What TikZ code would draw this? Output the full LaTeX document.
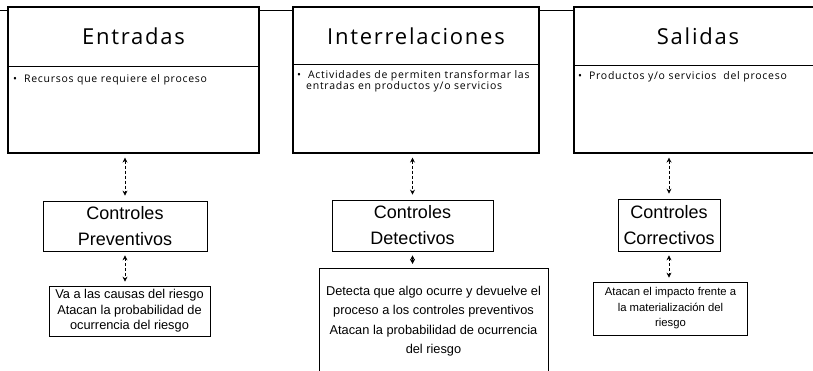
\documentclass[tikz,border=0pt]{standalone}
\usepackage{fontspec}
\setmainfont{Liberation Sans}
\newfontfamily\headfont[LetterSpace=8]{Open Sans}
\newfontfamily\smallfont[LetterSpace=7]{Open Sans}
\usetikzlibrary{arrows.meta,calc}
\begin{document}
\begin{tikzpicture}[x=1pt,y=-1pt,
  bigbox/.style={draw,line width=1.1pt,fill=white,inner sep=0pt},
  ctrlbox/.style={draw,line width=0.7pt,fill=white,align=center,inner sep=0pt,font=\fontsize{18}{26}\selectfont},
  descbox/.style={draw,line width=0.7pt,fill=white,align=center,inner sep=0pt,font=\fontsize{12.8}{15.5}\selectfont},
  head/.style={font=\headfont\fontsize{22}{24}\selectfont,inner sep=0pt},
  bullet/.style={font=\smallfont\fontsize{10.5}{11.5}\selectfont,inner sep=0pt,anchor=north west,align=left},
  link/.style={densely dashed,line width=0.7pt,{Stealth[length=5pt,width=5pt]}-{Stealth[length=5pt,width=5pt]}}
]
\clip (0,0) rectangle (813,371);
\fill[white] (0,0) rectangle (813,371);
% faint line behind top boxes
\coordinate (topL) at (0,10);
\coordinate (topR) at (813,10);
\draw[line width=0.6pt] (topL) -- (topR);
% top boxes
\node[bigbox,minimum width=251pt,minimum height=146pt] (E) at (133.5,80) {};
\node[bigbox,minimum width=246pt,minimum height=146pt] (I) at (416,80) {};
\node[bigbox,minimum width=246pt,minimum height=146pt] (S) at (697,80) {};
\draw[line width=0.9pt] (E.west |- 0,66) -- (E.east |- 0,66);
\draw[line width=0.9pt] (I.west |- 0,64) -- (I.east |- 0,64);
\draw[line width=0.9pt] (S.west |- 0,65) -- (S.east |- 0,65);
\node[head] (Et) at (133.5,36) {Entradas};
\node[head] (It) at (416,36) {Interrelaciones};
\node[head] (St) at (698,36) {Salidas};
\node[bullet] (Eb) at (13,74) {•\ \ Recursos que requiere el proceso};
\node[bullet] (Ib) at (297,70) {•\ \ Actividades de permiten transformar las\\\hspace*{9pt}entradas en productos y/o servicios};
\node[bullet] (Sb) at (578,71) {•\ \ Productos y/o servicios\ \ del proceso};
% control boxes
\node[ctrlbox,minimum width=164pt,minimum height=50pt] (P) at (125,226) {Controles\\Preventivos};
\node[ctrlbox,minimum width=161pt,minimum height=51pt] (D) at (412.5,225.5) {Controles\\Detectivos};
\node[ctrlbox,minimum width=102pt,minimum height=52pt] (C) at (669,225) {Controles\\Correctivos};
% description boxes
\node[descbox,minimum width=161pt,minimum height=50pt] (Pd) at (129.5,311) {Va a las causas del riesgo\\Atacan la probabilidad de\\ocurrencia del riesgo};
\node[descbox,minimum width=229pt,minimum height=112pt,anchor=north,font=\fontsize{12.8}{19.5}\selectfont] (Dd) at (433.5,268) {\rule{0pt}{26pt}Detecta que algo ocurre y devuelve el\\proceso a los controles preventivos\\Atacan la probabilidad de ocurrencia\\del riesgo\\\strut};
\node[descbox,minimum width=154pt,minimum height=53pt,font=\fontsize{11.3}{15.5}\selectfont] (Cd) at (670.5,308.5) {Atacan el impacto frente a\\la materialización del\\riesgo};
% connectors
\draw[link,shorten <=4pt,shorten >=5pt] (E.south -| P.north) -- (P.north);
\draw[link,shorten <=4pt,shorten >=5pt] (I.south -| D.north) -- (D.north);
\draw[link,shorten <=4pt,shorten >=5pt] (S.south -| C.north) -- (C.north);
\draw[link,shorten <=4pt,shorten >=4pt] (P.south) -- (P.south |- Pd.north);
\draw[link,shorten <=4pt,shorten >=4pt] (D.south) -- (D.south |- Dd.north);
\draw[link,shorten <=4pt,shorten >=4pt] (C.south) -- (C.south |- Cd.north);
\end{tikzpicture}
\end{document}
